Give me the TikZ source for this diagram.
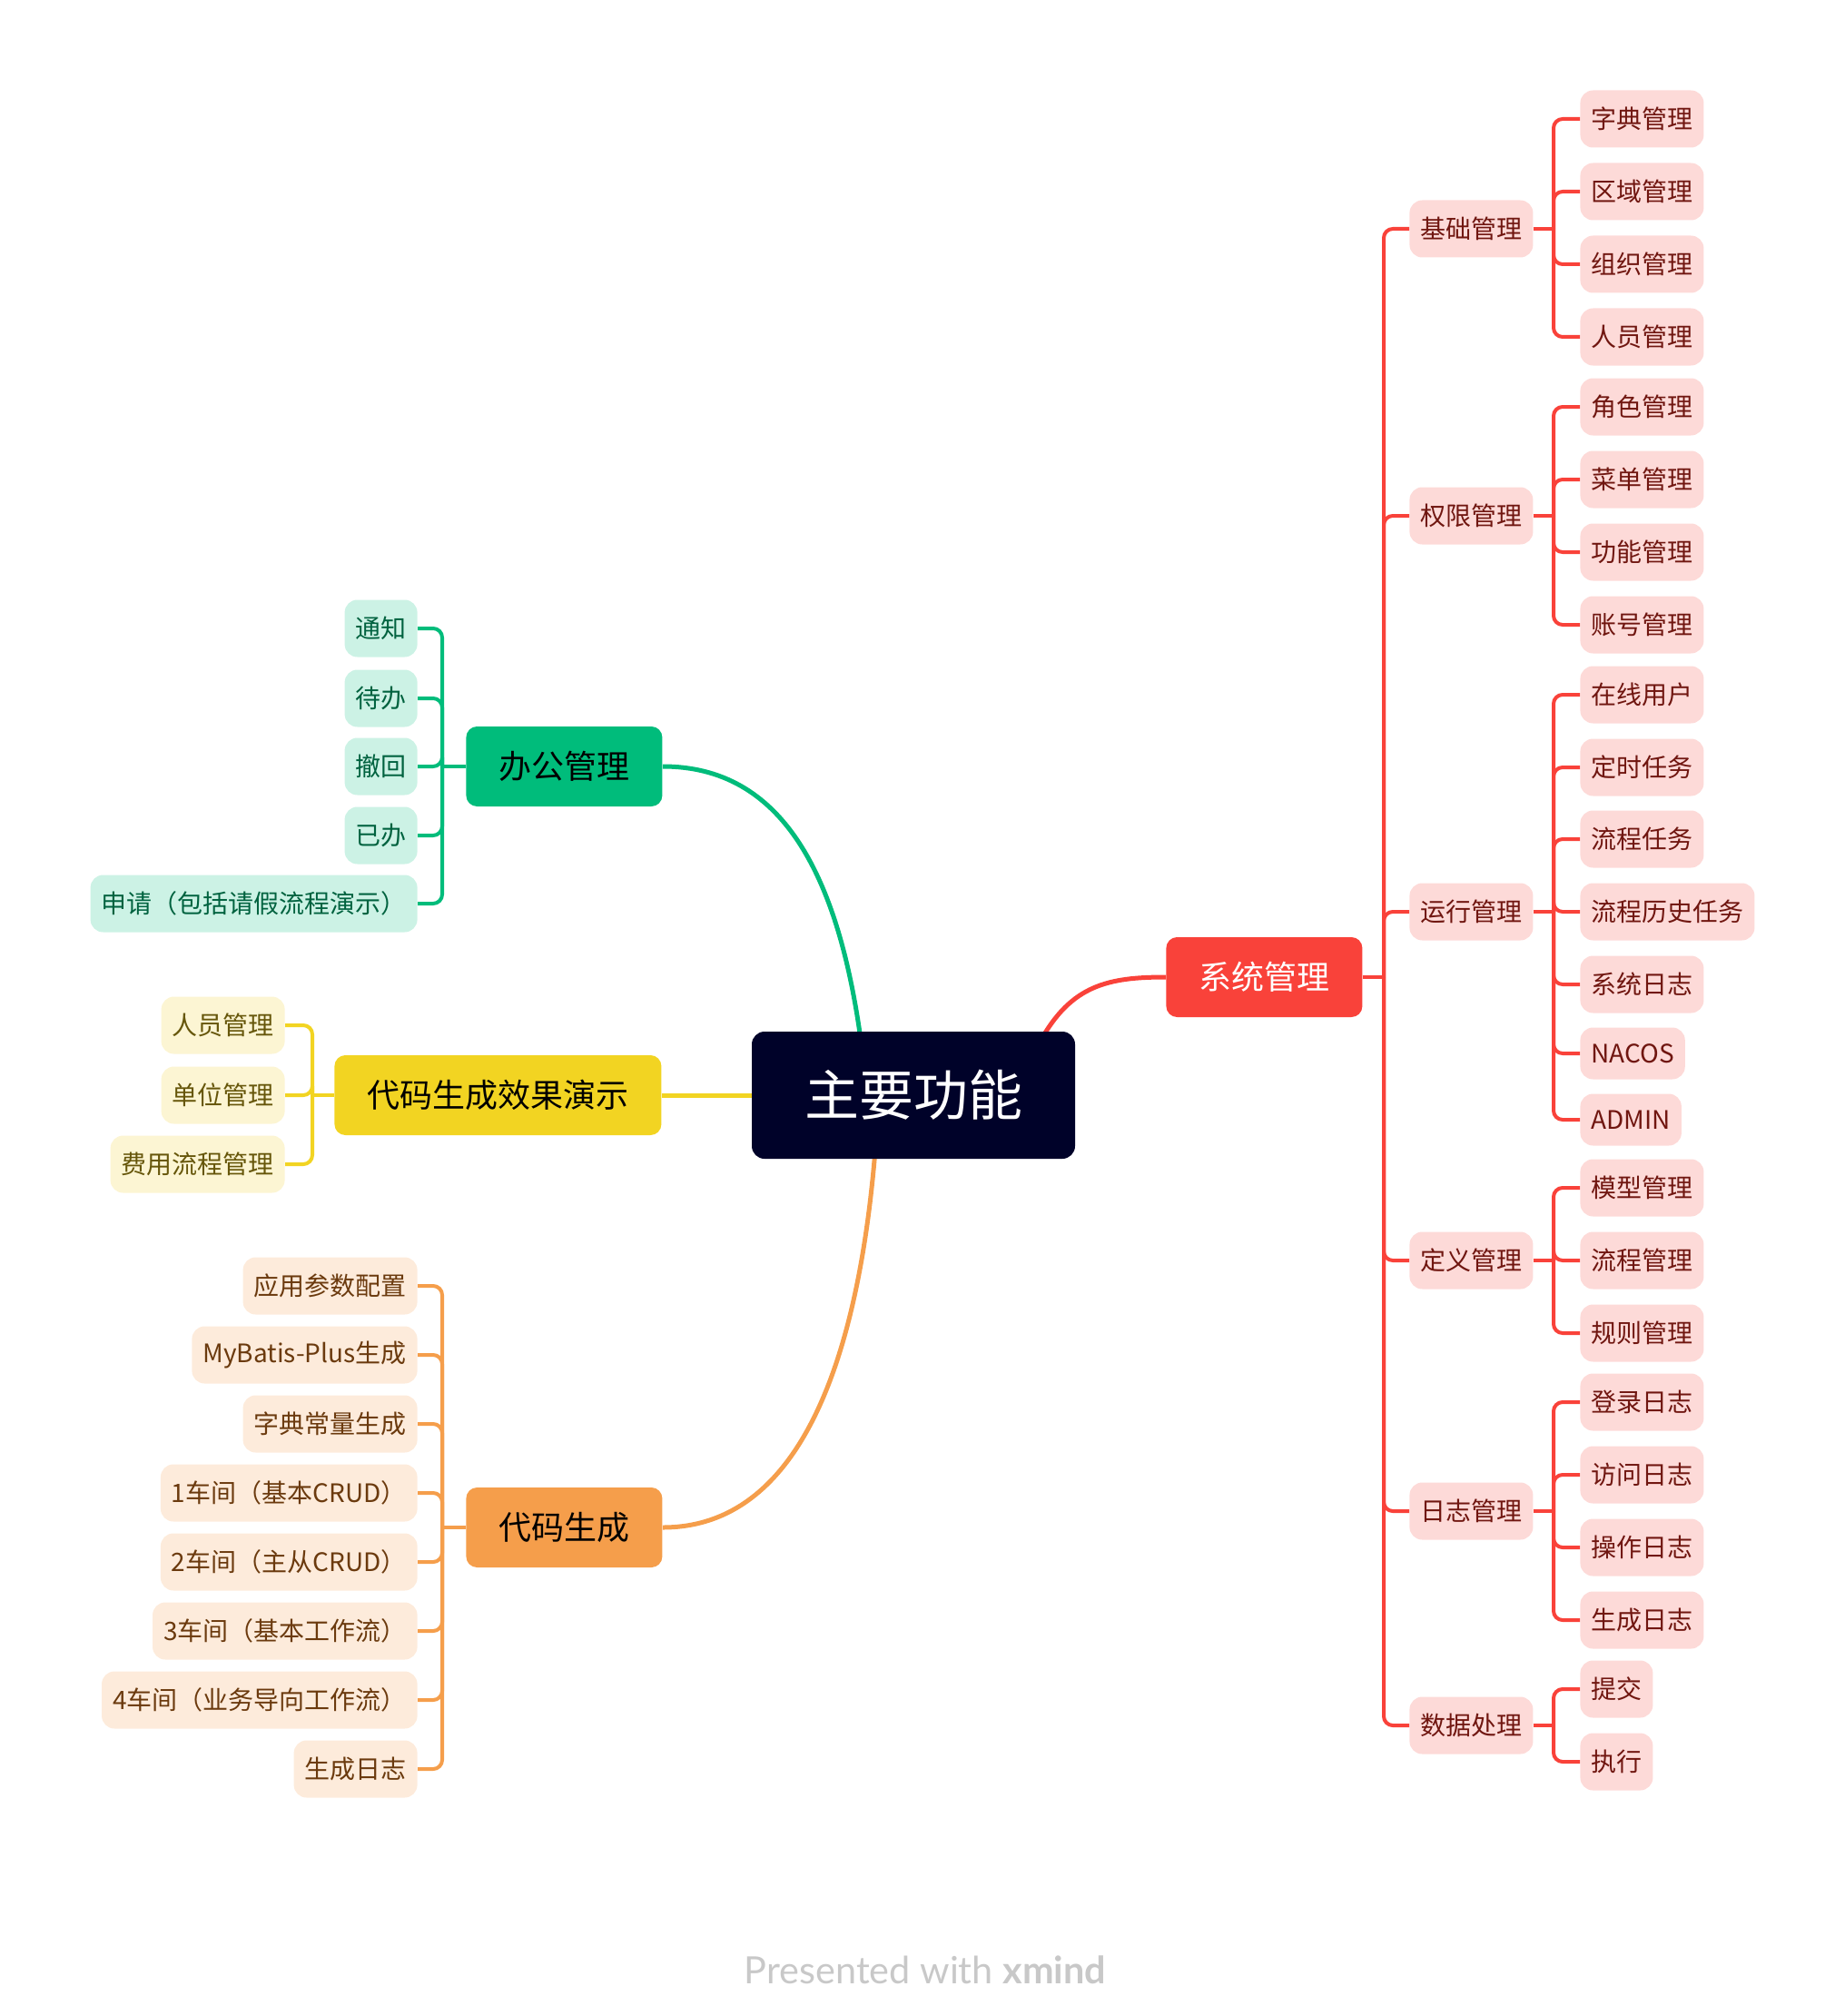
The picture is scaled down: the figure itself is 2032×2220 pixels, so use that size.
\documentclass[tikz,border=0pt]{standalone}
\usepackage{fontspec}
\setmainfont{Noto Sans CJK SC}
\newfontfamily\footfont{Lato}
\usetikzlibrary{calc}
\definecolor{mainbg}{HTML}{000229}
\definecolor{redM}{HTML}{F9423A}
\definecolor{greenM}{HTML}{00BC7B}
\definecolor{yellowM}{HTML}{F2D422}
\definecolor{orangeM}{HTML}{F59E4B}
\definecolor{redL}{HTML}{FDDAD8}
\definecolor{redT}{HTML}{701610}
\definecolor{greenL}{HTML}{CCF2E5}
\definecolor{greenT}{HTML}{00623F}
\definecolor{yellowL}{HTML}{FCF5D3}
\definecolor{yellowT}{HTML}{66560A}
\definecolor{orangeL}{HTML}{FDEBDB}
\definecolor{orangeT}{HTML}{6B3A0E}
\definecolor{footgray}{HTML}{C8C8C8}
\tikzset{
  box/.style={rounded corners=7pt, inner ysep=0pt, align=center},
  topic/.style={box, rounded corners=6pt, font=\fontsize{18}{20}\selectfont, minimum height=44pt, inner xsep=18pt},
  leaf/.style={box, font=\fontsize{14}{16}\selectfont, minimum height=31.5pt, inner xsep=6pt},
  latin/.style={minimum height=28.5pt},
  leafR/.style={leaf, fill=redL, text=redT},
  leafG/.style={leaf, fill=greenL, text=greenT},
  leafY/.style={leaf, fill=yellowL, text=yellowT},
  leafO/.style={leaf, fill=orangeL, text=orangeT},
  lnR/.style={draw=redM, line width=2pt, rounded corners=5pt},
  lnG/.style={draw=greenM, line width=2pt, rounded corners=5pt},
  lnY/.style={draw=yellowM, line width=2pt, rounded corners=5pt},
  lnO/.style={draw=orangeM, line width=2pt, rounded corners=5pt},
  curve/.style={line width=2.5pt},
}
\begin{document}
\begin{tikzpicture}[x=0.5pt,y=-0.5pt]
\useasboundingbox (0,0) rectangle (2032,2220);

% ---------- main topics ----------
\node[topic, fill=redM, text=white, anchor=west] (sys) at (1284,1076) {系统管理};
\node[topic, fill=greenM, text=black, anchor=west] (bg) at (513,844) {办公管理};
\node[topic, fill=yellowM, text=black, anchor=west] (yl) at (368,1206) {代码生成效果演示};
\node[topic, fill=orangeM, text=black, anchor=west] (cd) at (513,1682) {代码生成};

% central (position only, drawn later on top)
\coordinate (mc) at (1006,1206);

% ---------- main curves ----------
\draw[curve, draw=greenM] (bg.east) .. controls (860,844) and (925,960) .. ($(mc)+(-56,-46)$);
\draw[curve, draw=redM] ($(mc)+(140,-60)$) .. controls (1180,1085) and (1220,1076) .. (sys.west);
\draw[curve, draw=yellowM] (yl.east) -- (mc);
\draw[curve, draw=orangeM] ($(mc)+(-42,60)$) .. controls (945,1500) and (880,1682) .. (cd.east);

\node[box, rounded corners=7pt, fill=mainbg, text=white, font=\fontsize{30}{34}\selectfont,
      minimum width=178pt, minimum height=70pt, inner sep=0pt] (main) at (mc) {主要功能};

% ---------- right: second level ----------
\tikzset{sec/.style={leafR, anchor=west}}
\node[sec] (jc) at (1552,252) {基础管理};
\node[sec] (qx) at (1552,568) {权限管理};
\node[sec] (yx) at (1552,1004) {运行管理};
\node[sec] (dy) at (1552,1388) {定义管理};
\node[sec] (rz) at (1552,1664) {日志管理};
\node[sec] (sj) at (1552,1900) {数据处理};

\coordinate (sysT) at (1524,1076);
\draw[lnR] (sys.east) -- (sysT);
\foreach \n in {jc,qx,yx,dy,rz,sj} \draw[lnR] (sysT) |- (\n.west);

% ---------- right: leaves ----------
\tikzset{lr/.style={leafR, anchor=west}}
\node[lr] (jc1) at (1740,131) {字典管理};
\node[lr] (jc2) at (1740,211) {区域管理};
\node[lr] (jc3) at (1740,291) {组织管理};
\node[lr] (jc4) at (1740,371) {人员管理};

\node[lr] (qx1) at (1740,448) {角色管理};
\node[lr] (qx2) at (1740,528) {菜单管理};
\node[lr] (qx3) at (1740,608) {功能管理};
\node[lr] (qx4) at (1740,688) {账号管理};

\node[lr] (yx1) at (1740,765) {在线用户};
\node[lr] (yx2) at (1740,845) {定时任务};
\node[lr] (yx3) at (1740,924) {流程任务};
\node[lr] (yx4) at (1740,1004) {流程历史任务};
\node[lr] (yx5) at (1740,1084) {系统日志};
\node[lr, latin] (yx6) at (1740,1160) {NACOS};
\node[lr, latin] (yx7) at (1740,1233) {ADMIN};

\node[lr] (dy1) at (1740,1308) {模型管理};
\node[lr] (dy2) at (1740,1388) {流程管理};
\node[lr] (dy3) at (1740,1468) {规则管理};

\node[lr] (rz1) at (1740,1544) {登录日志};
\node[lr] (rz2) at (1740,1624) {访问日志};
\node[lr] (rz3) at (1740,1704) {操作日志};
\node[lr] (rz4) at (1740,1784) {生成日志};

\node[lr] (sj1) at (1740,1860) {提交};
\node[lr] (sj2) at (1740,1940) {执行};

\coordinate (jcT) at (1711,252);
\coordinate (qxT) at (1711,568);
\coordinate (yxT) at (1711,1004);
\coordinate (dyT) at (1711,1388);
\coordinate (rzT) at (1711,1664);
\coordinate (sjT) at (1711,1900);
\draw[lnR] (jc.east) -- (jcT);
\draw[lnR] (qx.east) -- (qxT);
\draw[lnR] (yx.east) -- (yxT);
\draw[lnR] (dy.east) -- (dyT);
\draw[lnR] (rz.east) -- (rzT);
\draw[lnR] (sj.east) -- (sjT);
\foreach \n in {jc1,jc2,jc3,jc4} \draw[lnR] (jcT) |- (\n.west);
\foreach \n in {qx1,qx2,qx3,qx4} \draw[lnR] (qxT) |- (\n.west);
\foreach \n in {yx1,yx2,yx3,yx4,yx5,yx6,yx7} \draw[lnR] (yxT) |- (\n.west);
\foreach \n in {dy1,dy2,dy3} \draw[lnR] (dyT) |- (\n.west);
\foreach \n in {rz1,rz2,rz3,rz4} \draw[lnR] (rzT) |- (\n.west);
\foreach \n in {sj1,sj2} \draw[lnR] (sjT) |- (\n.west);

% ---------- left: 办公管理 ----------
\tikzset{lg/.style={leafG, anchor=east}}
\node[lg] (bg1) at (460,692) {通知};
\node[lg] (bg2) at (460,769) {待办};
\node[lg] (bg3) at (460,844) {撤回};
\node[lg] (bg4) at (460,920) {已办};
\node[lg] (bg5) at (460,995) {申请（包括请假流程演示）};
\coordinate (bgT) at (487,844);
\draw[lnG] (bg.west) -- (bgT);
\foreach \n in {bg1,bg2,bg3,bg4,bg5} \draw[lnG] (bgT) |- (\n.east);

% ---------- left: 代码生成效果演示 ----------
\tikzset{ly/.style={leafY, anchor=east}}
\node[ly] (yl1) at (314,1129) {人员管理};
\node[ly] (yl2) at (314,1206) {单位管理};
\node[ly] (yl3) at (314,1282) {费用流程管理};
\coordinate (ylT) at (344,1206);
\draw[lnY] (yl.west) -- (ylT);
\foreach \n in {yl1,yl2,yl3} \draw[lnY] (ylT) |- (\n.east);

% ---------- left: 代码生成 ----------
\tikzset{lo/.style={leafO, anchor=east}}
\node[lo] (cd1) at (460,1416) {应用参数配置};
\node[lo] (cd2) at (460,1492) {MyBatis-Plus生成};
\node[lo] (cd3) at (460,1568) {字典常量生成};
\node[lo] (cd4) at (460,1644) {1车间（基本CRUD）};
\node[lo] (cd5) at (460,1720) {2车间（主从CRUD）};
\node[lo] (cd6) at (460,1796) {3车间（基本工作流）};
\node[lo] (cd7) at (460,1872) {4车间（业务导向工作流）};
\node[lo] (cd8) at (460,1948) {生成日志};
\coordinate (cdT) at (487,1682);
\draw[lnO] (cd.west) -- (cdT);
\foreach \n in {cd1,cd2,cd3,cd4,cd5,cd6,cd7,cd8} \draw[lnO] (cdT) |- (\n.east);

% ---------- footer ----------
\node[font=\footfont\fontsize{20.7}{24}\selectfont, text=footgray] (foot) at (1019,2169) {Presented with \textbf{xmind}};
\end{tikzpicture}
\end{document}
